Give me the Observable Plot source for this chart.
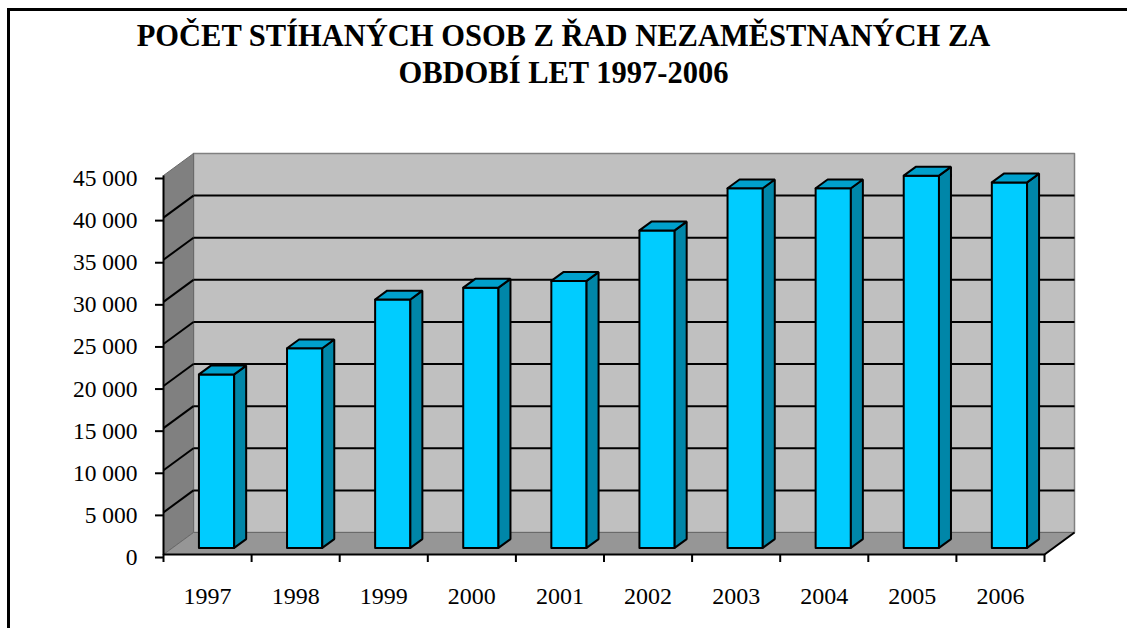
<!DOCTYPE html>
<html>
<head>
<meta charset="utf-8">
<script src="https://cdn.jsdelivr.net/npm/d3@7"></script>
<script src="https://cdn.jsdelivr.net/npm/@observablehq/plot@0.6"></script>
<style>
  html, body { margin: 0; padding: 0; background: #fff; }
  #wrap { position: relative; width: 1127px; height: 628px; overflow: hidden; font-family: "Liberation Serif", "Times New Roman", serif; }
  #frame { position: absolute; left: 7px; top: 8px; width: 1300px; height: 800px; border-left: 3px solid #000; border-top: 3px solid #000; box-sizing: border-box; pointer-events: none; }
  #title { position: relative; height: 92px; padding-top: 18px; text-align: center; font-weight: bold; font-size: 30.5px; line-height: 37px; color: #000; }
  #chart svg { display: block; }
</style>
</head>
<body>
<div id="wrap">
  <div id="frame"></div>
  <div id="title">POČET STÍHANÝCH OSOB Z ŘAD NEZAMĚSTNANÝCH ZA<br>OBDOBÍ LET 1997-2006</div>
  <div id="chart"></div>
</div>
<script>
// ---- data ----
const years = [1997, 1998, 1999, 2000, 2001, 2002, 2003, 2004, 2005, 2006];
const values = [20600, 23700, 29500, 30900, 31700, 37700, 42700, 42700, 44200, 43400];
const yTicks = [0, 5000, 10000, 15000, 20000, 25000, 30000, 35000, 40000, 45000];

// ---- layout ----
const W = 1127, H = 518, ML = 163, MR = 83, MT = 65, MB = 74;
const n = years.length;
const YMAX = yTicks[yTicks.length - 1];
const DEPTH_PX_X = 30, DEPTH_PX_Y = 22;
const pxPerX = (W - ML - MR) / n;
const pxPerY = (H - MT - MB) / YMAX;
const DX = DEPTH_PX_X / pxPerX, DY = DEPTH_PX_Y / pxPerY;
const P = (x, y, d) => ({x: x + d * DX, y: y + d * DY});
const poly = (id, pts) => [...pts, pts[0]].map(p => ({id, ...p}));
const seg = (a, b) => ({x1: a.x, y1: a.y, x2: b.x, y2: b.y});

const B0 = 0.3, B1 = 0.7, D0 = 0.3, D1 = 0.7;

const frontFaces = [], sideFaces = [], topFaces = [];
values.forEach((v, i) => {
  const x1 = i + B0, x2 = i + B1;
  frontFaces.push(...poly(i, [P(x1, 0, D0), P(x2, 0, D0), P(x2, v, D0), P(x1, v, D0)]));
  sideFaces.push(...poly(i, [P(x2, 0, D0), P(x2, 0, D1), P(x2, v, D1), P(x2, v, D0)]));
  topFaces.push(...poly(i, [P(x1, v, D0), P(x2, v, D0), P(x2, v, D1), P(x1, v, D1)]));
});

const leftWall = poly("l", [P(0, 0, 0), P(0, 0, 1), P(0, YMAX, 1), P(0, YMAX, 0)]);
const backWall = poly("b", [P(0, 0, 1), P(n, 0, 1), P(n, YMAX, 1), P(0, YMAX, 1)]);
const floorFace = poly("f", [P(0, 0, 0), P(n, 0, 0), P(n, 0, 1), P(0, 0, 1)]);

const inner = yTicks.filter(v => v > 0 && v < YMAX);
const gridBack = inner.map(v => seg(P(0, v, 1), P(n, v, 1)));
const gridSide = inner.map(v => seg(P(0, v, 0), P(0, v, 1)));
const frontEdges = [seg(P(0, 0, 0), P(n, 0, 0)), seg(P(0, 0, 0), P(0, YMAX, 0)), seg(P(n, 0, 0), P(n, 0, 1))];

const fmt = d3.formatLocale({thousands: " ", grouping: [3], decimal: ","}).format(",d");

const chart = Plot.plot({
  width: W, height: H,
  marginLeft: ML, marginRight: MR, marginTop: MT, marginBottom: MB,
  style: {fontFamily: "'Liberation Serif', 'Times New Roman', serif", color: "#000", background: "transparent"},
  x: {domain: [0, n], label: null},
  y: {domain: [0, YMAX], label: null},
  marks: [
    Plot.line(backWall, {x: "x", y: "y", z: "id", fill: "#c0c0c0", stroke: "#808080", strokeWidth: 1.5}),
    Plot.line(leftWall, {x: "x", y: "y", z: "id", fill: "#808080", stroke: "#6a6a6a", strokeWidth: 1}),
    Plot.line(floorFace, {x: "x", y: "y", z: "id", fill: "#969696", stroke: "#6a6a6a", strokeWidth: 1}),
    Plot.link(gridBack, {x1: "x1", y1: "y1", x2: "x2", y2: "y2", stroke: "#000", strokeWidth: 2}),
    Plot.link(gridSide, {x1: "x1", y1: "y1", x2: "x2", y2: "y2", stroke: "#000", strokeWidth: 2}),
    Plot.line(frontFaces, {x: "x", y: "y", z: "id", fill: "#00ccff", stroke: "#000", strokeWidth: 2, strokeLinejoin: "miter"}),
    Plot.line(sideFaces, {x: "x", y: "y", z: "id", fill: "#0086a8", stroke: "#000", strokeWidth: 2, strokeLinejoin: "miter"}),
    Plot.line(topFaces, {x: "x", y: "y", z: "id", fill: "#00a0cc", stroke: "#000", strokeWidth: 2, strokeLinejoin: "miter"}),
    Plot.link(frontEdges, {x1: "x1", y1: "y1", x2: "x2", y2: "y2", stroke: "#000", strokeWidth: 2}),
    Plot.axisY(yTicks, {tickSize: 8, tickPadding: 18, tickFormat: fmt, fontSize: 23.5, strokeWidth: 2, label: null, dy: 3}),
    Plot.axisX(d3.range(n + 1), {tickSize: 8, tickFormat: () => "", strokeWidth: 2, label: null}),
    Plot.axisX(d3.range(n).map(i => i + 0.5), {tickSize: 0, tickPadding: 32, tickFormat: t => String(years[Math.floor(t)]), fontSize: 24, label: null})
  ]
});
document.getElementById("chart").appendChild(chart);
</script>
</body>
</html>
